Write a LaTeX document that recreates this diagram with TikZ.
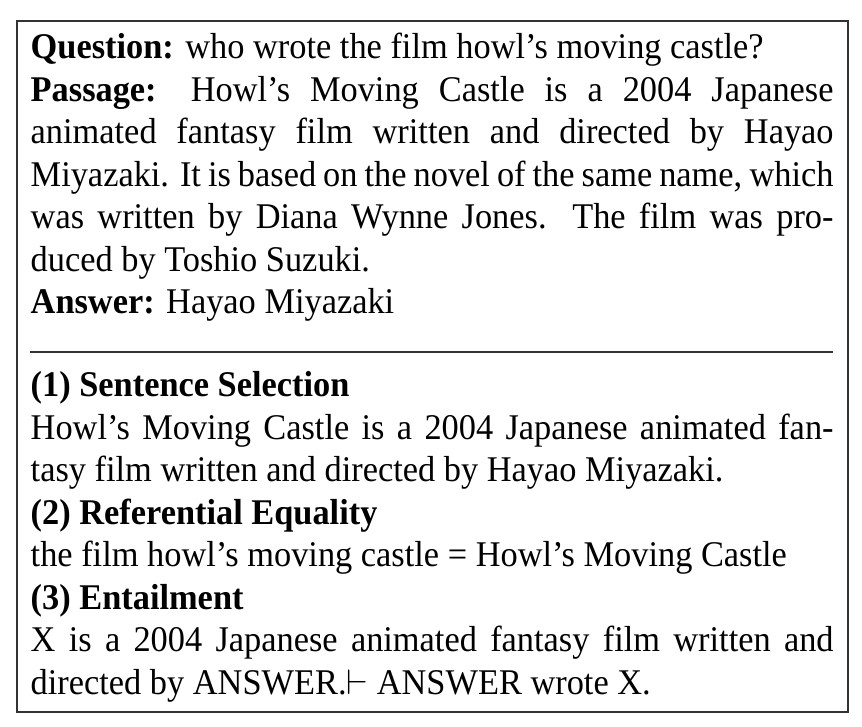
\documentclass[tikz,border=0pt]{standalone}
\usepackage{fontspec}
\setmainfont{Liberation Serif}[FakeStretch=0.95]
\hyphenpenalty=10000
\tolerance=9999
\begin{document}
\begin{tikzpicture}[x=0.282pt,y=-0.282pt,
  frame/.style={draw=black!80,line width=0.55pt},
  rule/.style={draw=black!80,line width=0.75pt},
  txt/.style={anchor=north west,inner sep=0pt,text width=226.4pt,align=justify,
    font=\fontsize{10.2pt}{12pt}\selectfont}]
\useasboundingbox[fill=white] (0,0) rectangle (862,726);
\draw[frame] (17,21) rectangle (848,712);
\node[txt] (top) at (30,28) {\strut\textbf{Question:} who wrote the film howl's moving castle?\par
\textbf{Passage:} Howl's Moving Castle is a 2004 Japanese\linebreak
animated fantasy film written and directed by Hayao\linebreak
Miyazaki. It is based on the novel of the same name, which\linebreak
was written by Diana Wynne Jones. The film was pro-\linebreak
duced by Toshio Suzuki.\par
\textbf{Answer:} Hayao Miyazaki\strut};
\coordinate (sl) at (30,352);
\coordinate (sr) at (833,352);
\draw[rule] (sl) -- (sr);
\node[txt] (bot) at (30,366) {\strut\textbf{(1) Sentence Selection}\par
Howl's Moving Castle is a 2004 Japanese animated fan-\linebreak
tasy film written and directed by Hayao Miyazaki.\par
\textbf{(2) Referential Equality}\par
the film howl's moving castle = Howl's Moving Castle\par
\textbf{(3) Entailment}\par
X is a 2004 Japanese animated fantasy film written and\linebreak
directed by ANSWER.$\vdash$ ANSWER wrote X.\strut};
\end{tikzpicture}
\end{document}
